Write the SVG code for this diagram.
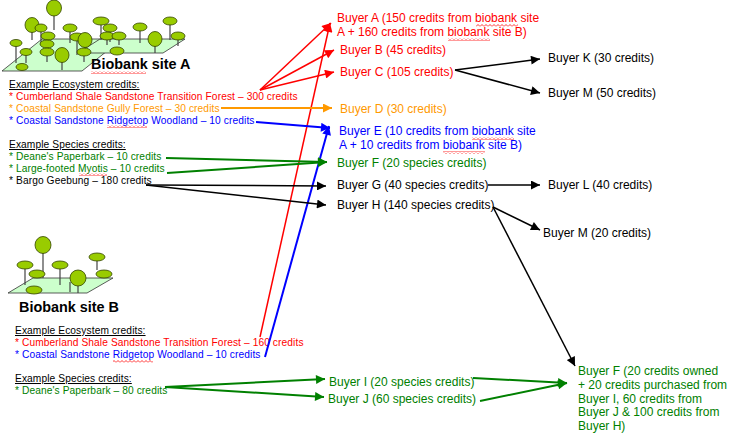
<svg xmlns="http://www.w3.org/2000/svg" width="734" height="441" viewBox="0 0 734 441">
<style>
text{font-family:"Liberation Sans",Arial,sans-serif}
.s{font-size:10.2px;letter-spacing:0.1px}
.b{font-size:12px}
.t{font-size:14.4px;font-weight:bold}
.u{text-decoration:underline}
.red{fill:#ff0000}.org{fill:#ff9900}.blu{fill:#0000ff}.grn{fill:#008000}.blk{fill:#000}
.ground{fill:#ccffcc;stroke:#333;stroke-width:0.8}
.trunk{stroke:#444;stroke-width:1.2}
.crown{fill:#99cc00;stroke:#334400;stroke-width:0.8}
.c{fill:none}
.cr{stroke:#ff0000;stroke-width:1.5;marker-end:url(#ar)}
.co{stroke:#ff9900;stroke-width:2;marker-end:url(#ao)}
.cb{stroke:#0000ff;stroke-width:2;marker-end:url(#ab)}
.cg{stroke:#008000;stroke-width:2;marker-end:url(#ag)}
.ck{stroke:#000;stroke-width:1.5;marker-end:url(#ak)}
.sq{fill:url(#sqp)}
</style>
<defs>
<marker id="ar" viewBox="0 0 10 10" refX="10" refY="5" markerWidth="11" markerHeight="9" markerUnits="userSpaceOnUse" orient="auto"><path d="M0,0L10,5L0,10z" fill="#ff0000"/></marker>
<marker id="ao" viewBox="0 0 10 10" refX="10" refY="5" markerWidth="11" markerHeight="9" markerUnits="userSpaceOnUse" orient="auto"><path d="M0,0L10,5L0,10z" fill="#ff9900"/></marker>
<marker id="ab" viewBox="0 0 10 10" refX="10" refY="5" markerWidth="11" markerHeight="9" markerUnits="userSpaceOnUse" orient="auto"><path d="M0,0L10,5L0,10z" fill="#0000ff"/></marker>
<marker id="ag" viewBox="0 0 10 10" refX="10" refY="5" markerWidth="11" markerHeight="9" markerUnits="userSpaceOnUse" orient="auto"><path d="M0,0L10,5L0,10z" fill="#008000"/></marker>
<marker id="ak" viewBox="0 0 10 10" refX="10" refY="5" markerWidth="11" markerHeight="9" markerUnits="userSpaceOnUse" orient="auto"><path d="M0,0L10,5L0,10z" fill="#000"/></marker>
<pattern id="sqp" width="4" height="3" patternUnits="userSpaceOnUse"><polyline points="0,2.5 2,0.5 4,2.5" fill="none" stroke="#ff0000" stroke-width="0.8"/></pattern>
</defs>
<rect width="734" height="441" fill="#fff"/>

<g id="site-a-icon">
<polygon class="ground" points="2,71 82,71 122,39 42,39"/>
<polygon class="ground" points="78,53 163,53 185,39 100,39"/>
<g class="trunk">
<line x1="54" y1="8" x2="54" y2="30"/><line x1="32" y1="25" x2="32" y2="40"/><line x1="41" y1="28" x2="41" y2="45"/>
<line x1="48" y1="36" x2="48" y2="50"/><line x1="70" y1="28" x2="70" y2="43"/><line x1="101" y1="21" x2="101" y2="40"/>
<line x1="110" y1="28" x2="110" y2="42"/><line x1="107" y1="36" x2="107" y2="45"/><line x1="119" y1="36" x2="119" y2="45"/>
<line x1="140" y1="27" x2="140" y2="43"/><line x1="170" y1="21" x2="170" y2="40"/><line x1="178" y1="36" x2="178" y2="46"/>
<line x1="155" y1="39" x2="155" y2="53"/><line x1="16" y1="43" x2="16" y2="63"/><line x1="26" y1="52" x2="26" y2="63"/>
<line x1="47" y1="44" x2="47" y2="62"/><line x1="62" y1="55" x2="62" y2="70"/><line x1="77" y1="37" x2="77" y2="55"/>
<line x1="85" y1="40" x2="85" y2="55"/><line x1="84" y1="52" x2="84" y2="62"/>
</g>
<g class="crown">
<ellipse cx="54" cy="8" rx="7.5" ry="8"/><ellipse cx="32" cy="25" rx="7" ry="7.5"/><ellipse cx="41" cy="28" rx="6" ry="4"/>
<ellipse cx="70" cy="28" rx="7" ry="4"/><ellipse cx="101" cy="21" rx="8" ry="4"/><ellipse cx="110" cy="28" rx="7" ry="4"/>
<ellipse cx="140" cy="27" rx="7" ry="4"/><ellipse cx="170" cy="21" rx="7" ry="4"/><ellipse cx="48" cy="36" rx="7" ry="4"/>
<ellipse cx="107" cy="36" rx="7" ry="4"/><ellipse cx="119" cy="36" rx="7" ry="4"/><ellipse cx="178" cy="36" rx="7" ry="4"/>
<ellipse cx="77" cy="37" rx="7" ry="4"/><ellipse cx="85" cy="40" rx="7" ry="7.5"/><ellipse cx="155" cy="39" rx="7" ry="7.5"/>
<ellipse cx="16" cy="43" rx="6" ry="3.5"/><ellipse cx="47" cy="44" rx="7" ry="4"/><ellipse cx="117" cy="51" rx="7" ry="4"/>
<ellipse cx="26" cy="52" rx="6" ry="3.5"/><ellipse cx="47" cy="52" rx="7" ry="4"/><ellipse cx="84" cy="52" rx="7" ry="4"/>
<ellipse cx="62" cy="55" rx="7" ry="7.5"/><ellipse cx="22" cy="67" rx="6" ry="3.5"/>
</g>
</g>

<g id="site-a-label">
<text class="t" x="91" y="69">Biobank site A</text>
<rect class="sq" x="91" y="71" width="55" height="3"/>
</g>

<g id="site-a-ecosystem">
<text class="s u" x="9" y="88">Example Ecosystem credits:</text>
<text class="s red" x="9" y="100">* Cumberland Shale Sandstone Transition Forest – 300 credits</text>
<text class="s org" x="9" y="112">* Coastal Sandstone Gully Forest – 30 credits</text>
<text class="s blu" x="9" y="124">* Coastal Sandstone Ridgetop Woodland – 10 credits</text>
<rect class="sq" x="107" y="125" width="40" height="3"/>
</g>

<g id="site-a-species">
<text class="s u" x="9" y="148">Example Species credits:</text>
<text class="s grn" x="9" y="160">* Deane's Paperbark – 10 credits</text>
<text class="s grn" x="9" y="172">* Large-footed Myotis – 10 credits</text>
<rect class="sq" x="79" y="173" width="28" height="3"/>
<text class="s blk" x="9" y="184">* Bargo Geebung – 180 credits</text>
</g>

<g id="site-b-icon">
<polygon class="ground" points="8,293 87,293 113,278 33,278"/>
<g class="trunk">
<line x1="43" y1="245" x2="43" y2="278"/><line x1="25" y1="265" x2="25" y2="285"/><line x1="60" y1="265" x2="60" y2="285"/>
<line x1="97" y1="257" x2="97" y2="270"/><line x1="78" y1="278" x2="78" y2="293"/><line x1="70" y1="282" x2="70" y2="292"/>
</g>
<g class="crown">
<ellipse cx="43" cy="245" rx="8" ry="8.5"/><ellipse cx="25" cy="265" rx="8" ry="4"/><ellipse cx="60" cy="265" rx="8" ry="4"/>
<ellipse cx="97" cy="257" rx="8" ry="4"/><ellipse cx="37" cy="274" rx="8" ry="4"/><ellipse cx="104" cy="274" rx="8" ry="4"/>
<ellipse cx="78" cy="278" rx="8" ry="8"/><ellipse cx="34" cy="290" rx="8" ry="4"/>
</g>
</g>

<g id="site-b-label">
<text class="t" x="19" y="312">Biobank site B</text>
</g>

<g id="site-b-ecosystem">
<text class="s u" x="15" y="334">Example Ecosystem credits:</text>
<text class="s red" x="15" y="346">* Cumberland Shale Sandstone Transition Forest – 160 credits</text>
<text class="s blu" x="15" y="358">* Coastal Sandstone Ridgetop Woodland – 10 credits</text>
<rect class="sq" x="113" y="360" width="40" height="3"/>
</g>

<g id="site-b-species">
<text class="s u" x="15" y="382">Example Species credits:</text>
<text class="s grn" x="15" y="394">* Deane's Paperbark – 80 credits</text>
</g>

<g id="buyer-a">
<text class="b red" x="337" y="22">Buyer A (150 credits from biobank site</text>
<text class="b red" x="337" y="36">A + 160 credits from biobank site B)</text>
<rect class="sq" x="476" y="24" width="42" height="3"/>
<rect class="sq" x="448" y="38" width="42" height="3"/>
</g>
<g id="buyer-b"><text class="b red" x="340" y="54">Buyer B (45 credits)</text></g>
<g id="buyer-c"><text class="b red" x="340" y="76">Buyer C (105 credits)</text></g>
<g id="buyer-d"><text class="b org" x="340" y="113">Buyer D (30 credits)</text></g>
<g id="buyer-e">
<text class="b blu" x="339" y="135">Buyer E (10 credits from biobank site</text>
<text class="b blu" x="339" y="149">A + 10 credits from biobank site B)</text>
<rect class="sq" x="472" y="137" width="42" height="3"/>
<rect class="sq" x="443" y="151" width="42" height="3"/>
</g>
<g id="buyer-f"><text class="b grn" x="337" y="167">Buyer F (20 species credits)</text></g>
<g id="buyer-g"><text class="b blk" x="337" y="189">Buyer G (40 species credits)</text></g>
<g id="buyer-h"><text class="b blk" x="337" y="209">Buyer H (140 species credits)</text></g>
<g id="buyer-k"><text class="b blk" x="548" y="62">Buyer K (30 credits)</text></g>
<g id="buyer-m1"><text class="b blk" x="548" y="97">Buyer M (50 credits)</text></g>
<g id="buyer-l"><text class="b blk" x="548" y="189">Buyer L (40 credits)</text></g>
<g id="buyer-m2"><text class="b blk" x="543" y="237">Buyer M (20 credits)</text></g>
<g id="buyer-i"><text class="b grn" x="329" y="386">Buyer I (20 species credits)</text></g>
<g id="buyer-j"><text class="b grn" x="328" y="403">Buyer J (60 species credits)</text></g>
<g id="buyer-f-final">
<text class="b grn" x="578" y="375">Buyer F (20 credits owned</text>
<text class="b grn" x="578" y="389">+ 20 credits purchased from</text>
<text class="b grn" x="578" y="403">Buyer I, 60 credits from</text>
<text class="b grn" x="578" y="416">Buyer J &amp; 100 credits from</text>
<text class="b grn" x="578" y="430">Buyer H)</text>
</g>

<g id="connectors" class="c">
<line class="cr" x1="260" y1="90" x2="331" y2="23"/>
<line class="cr" x1="260" y1="90" x2="334" y2="50"/>
<line class="cr" x1="260" y1="90" x2="334" y2="72"/>
<line class="cr" x1="260" y1="337" x2="330" y2="23"/>
<line class="co" x1="221" y1="108" x2="332" y2="108"/>
<line class="cb" x1="256" y1="122" x2="330" y2="128"/>
<line class="cb" x1="265" y1="357" x2="329" y2="126"/>
<line class="cg" x1="166" y1="158" x2="327" y2="162"/>
<line class="cg" x1="167" y1="173" x2="327" y2="162"/>
<line class="ck" x1="146" y1="185" x2="326" y2="186"/>
<line class="ck" x1="146" y1="185" x2="326" y2="205"/>
<line class="ck" x1="455" y1="70" x2="540" y2="59"/>
<line class="ck" x1="455" y1="70" x2="540" y2="93"/>
<line class="ck" x1="488" y1="185" x2="540" y2="185"/>
<line class="ck" x1="493" y1="207" x2="540" y2="230"/>
<line class="ck" x1="493" y1="207" x2="575" y2="366"/>
<line class="cg" x1="165" y1="387" x2="325" y2="379"/>
<line class="cg" x1="165" y1="387" x2="324" y2="397"/>
<line class="cg" x1="473" y1="378" x2="567" y2="383"/>
<line class="cg" x1="480" y1="401" x2="567" y2="383"/>
</g>
</svg>
